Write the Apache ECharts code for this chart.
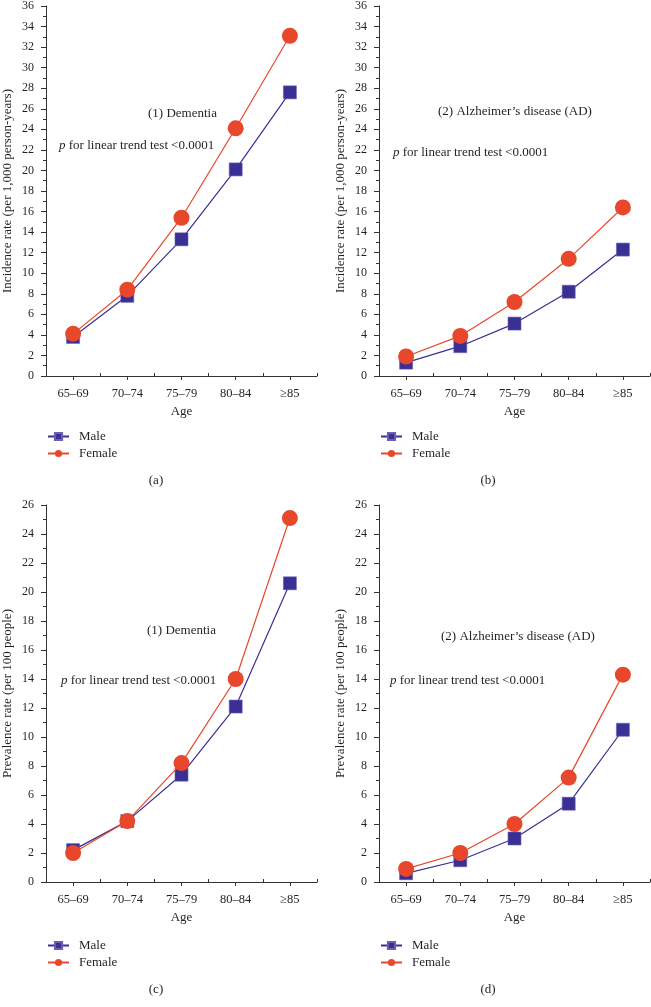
<!DOCTYPE html>
<html>
<head>
<meta charset="utf-8">
<script src="https://cdn.jsdelivr.net/npm/echarts@6/dist/echarts.min.js"></script>
<style>
html,body{margin:0;padding:0;background:#fff;}
#c{width:651px;height:1007px;}
</style>
</head>
<body>
<div id="c"></div>
<script>
const ageGroups = ['65\u201369', '70\u201374', '75\u201379', '80\u201384', '\u226585'];
const seriesNames = ['Male', 'Female'];
// (a) Dementia incidence per 1,000 person-years
const incDementiaMale = [3.8, 7.8, 13.3, 20.1, 27.6];
const incDementiaFemale = [4.1, 8.4, 15.4, 24.1, 33.1];
// (b) AD incidence per 1,000 person-years
const incADMale = [1.3, 2.9, 5.1, 8.2, 12.3];
const incADFemale = [1.9, 3.9, 7.2, 11.4, 16.4];
// (c) Dementia prevalence per 100 people
const prevDementiaMale = [2.2, 4.2, 7.4, 12.1, 20.6];
const prevDementiaFemale = [2.0, 4.2, 8.2, 14.0, 25.1];
// (d) AD prevalence per 100 people
const prevADMale = [0.6, 1.5, 3.0, 5.4, 10.5];
const prevADFemale = [0.9, 2.0, 4.0, 7.2, 14.3];

const incidenceTitle = 'Incidence rate (per 1,000 person-years)';
const prevalenceTitle = 'Prevalence rate (per 100 people)';
const xTitle = 'Age';
const dementiaLabel = '(1) Dementia';
const adLabel = '(2) Alzheimer\u2019s disease (AD)';
const pText = '{i|p} for linear trend test <0.0001';
const captions = ['(a)', '(b)', '(c)', '(d)'];

const FONT = "'Liberation Serif','DejaVu Serif',serif";
const TXT = '#231f20';
const MALE = '#3a2f94';
const FEMALE = '#e8472b';

const panels = [
  {left: 46, top: 5, height: 371, max: 36, ytitle: incidenceTitle, male: incDementiaMale, female: incDementiaFemale},
  {left: 379, top: 5, height: 371, max: 36, ytitle: incidenceTitle, male: incADMale, female: incADFemale},
  {left: 46, top: 505, height: 377, max: 26, ytitle: prevalenceTitle, male: prevDementiaMale, female: prevDementiaFemale},
  {left: 379, top: 505, height: 377, max: 26, ytitle: prevalenceTitle, male: prevADMale, female: prevADFemale}
];

const grid = [], xAxis = [], yAxis = [], series = [], legend = [], title = [], graphic = [];
panels.forEach((p, i) => {
  grid.push({left: p.left, top: p.top, width: 271, height: p.height});
  // main category axis: outward ticks at category centres
  xAxis.push({
    type: 'category', gridIndex: i, data: ageGroups, position: 'bottom', boundaryGap: true,
    name: xTitle, nameLocation: 'middle', nameGap: 29,
    nameTextStyle: {fontFamily: FONT, fontSize: 13, color: TXT},
    axisLine: {lineStyle: {color: '#333', width: 1}},
    axisTick: {show: true, alignWithLabel: true, length: 4, lineStyle: {color: '#333'}},
    axisLabel: {fontFamily: FONT, fontSize: 12.5, color: TXT, margin: 11},
    splitLine: {show: false}
  });
  // second axis: small inward ticks at category boundaries
  xAxis.push({
    type: 'category', gridIndex: i, data: ageGroups, position: 'bottom', boundaryGap: true,
    axisLine: {show: false},
    axisTick: {show: true, inside: true, alignWithLabel: false, length: 3, lineStyle: {color: '#333'}},
    axisLabel: {show: false}, splitLine: {show: false}
  });
  yAxis.push({
    type: 'value', gridIndex: i, min: 0, max: p.max, interval: 2,
    name: p.ytitle, nameLocation: 'middle', nameGap: 32,
    nameTextStyle: {fontFamily: FONT, fontSize: 13, color: TXT},
    axisLine: {show: true, lineStyle: {color: '#333', width: 1}},
    axisTick: {show: true, length: 5, lineStyle: {color: '#333'}},
    minorTick: {show: true, splitNumber: 2, length: 3, lineStyle: {color: '#333'}},
    axisLabel: {fontFamily: FONT, fontSize: 12, color: TXT, margin: 12},
    splitLine: {show: false}
  });
  series.push({
    name: seriesNames[0], type: 'line', xAxisIndex: 2 * i, yAxisIndex: i, data: p.male,
    symbol: 'rect', symbolSize: 13, lineStyle: {color: MALE, width: 1.2},
    itemStyle: {color: MALE, borderColor: '#6a62b0', borderWidth: 0.6}, z: 2
  });
  series.push({
    name: seriesNames[1], type: 'line', xAxisIndex: 2 * i, yAxisIndex: i, data: p.female,
    symbol: 'circle', symbolSize: 16, lineStyle: {color: FEMALE, width: 1.2},
    itemStyle: {color: FEMALE}, z: 3
  });
  const top = i < 2 ? 430 : 939;
  legend.push({
    orient: 'vertical', left: p.left + 1, top: top, padding: 0,
    itemWidth: 21, itemHeight: 9, itemGap: 4,
    data: seriesNames, selectedMode: false,
    textStyle: {fontFamily: FONT, fontSize: 13, color: TXT, padding: [0, 0, 0, 5]}
  });
  graphic.push({
    type: 'text', x: i % 2 === 0 ? 156 : 488, y: i < 2 ? 481 : 990,
    style: {text: captions[i], font: '13px ' + FONT, fill: TXT, align: 'center', verticalAlign: 'middle',
            textAlign: 'center', textVerticalAlign: 'middle'}
  });
});

const annot = [
  {t: dementiaLabel, l: 148, tp: 106}, {t: pText, l: 59, tp: 138},
  {t: adLabel, l: 438, tp: 104}, {t: pText, l: 393, tp: 145},
  {t: dementiaLabel, l: 147, tp: 623}, {t: pText, l: 61, tp: 673},
  {t: adLabel, l: 441, tp: 629}, {t: pText, l: 390, tp: 673}
];
annot.forEach(a => {
  title.push({
    text: a.t, left: a.l, top: a.tp, padding: 0,
    textStyle: {fontFamily: FONT, fontSize: 13, fontWeight: 'normal', color: TXT, lineHeight: 16,
      rich: {i: {fontFamily: FONT, fontSize: 13, fontStyle: 'italic', color: TXT, lineHeight: 16}}}
  });
});

const chart = echarts.init(document.getElementById('c'), null, {renderer: 'canvas'});
chart.setOption({
  animation: false,
  backgroundColor: '#fff',
  title, grid, xAxis, yAxis, series, legend, graphic
});
</script>
</body>
</html>
